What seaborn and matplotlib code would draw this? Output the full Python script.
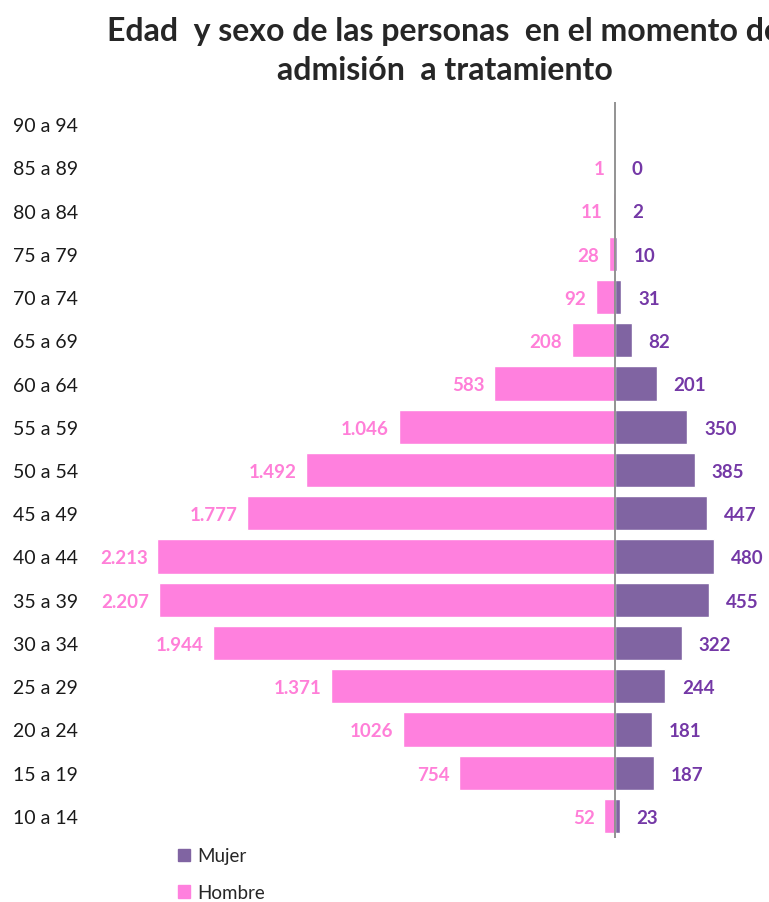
import pandas as pd
import matplotlib.pyplot as plt
import seaborn as sns
from matplotlib.patches import Patch

# age groups, top to bottom
edades = ['90 a 94', '85 a 89', '80 a 84', '75 a 79', '70 a 74', '65 a 69', '60 a 64',
          '55 a 59', '50 a 54', '45 a 49', '40 a 44', '35 a 39', '30 a 34', '25 a 29',
          '20 a 24', '15 a 19', '10 a 14']
hombre = [0, 1, 11, 28, 92, 208, 583, 1046, 1492, 1777, 2213, 2207, 1944, 1371, 1026, 754, 52]
mujer = [0, 0, 2, 10, 31, 82, 201, 350, 385, 447, 480, 455, 322, 244, 181, 187, 23]
etiq_hombre = ['', '1', '11', '28', '92', '208', '583', '1.046', '1.492', '1.777', '2.213',
               '2.207', '1.944', '1.371', '1026', '754', '52']
etiq_mujer = ['', '0', '2', '10', '31', '82', '201', '350', '385', '447', '480', '455',
              '322', '244', '181', '187', '23']

rosa = '#FF80DE'
morado = '#8064A2'
rosa_txt = '#FF7FD8'
morado_txt = '#7438A6'

df = pd.DataFrame({'Edad': edades, 'Hombre': [-v for v in hombre], 'Mujer': mujer})

sns.set_style('white')
plt.rcParams['font.family'] = ['Lato', 'DejaVu Sans']

fig = plt.figure(figsize=(7.69, 9.03), dpi=100)
ax = fig.add_axes([100 / 769, 1 - 838.6 / 903, 669 / 769, (838.6 - 103.4) / 903])

sns.barplot(data=df, y='Edad', x='Hombre', color=rosa, orient='h', width=0.79,
            saturation=1, ax=ax)
sns.barplot(data=df, y='Edad', x='Mujer', color=morado, orient='h', width=0.79,
            saturation=1, ax=ax)

ax.set_xlim(-2490, 745)
ax.set_ylim(len(edades) - 0.5, -0.5)
ax.axvline(0, color='#8a8a8a', lw=1.3)

for i in range(len(edades)):
    if etiq_hombre[i]:
        ax.annotate(etiq_hombre[i], (-hombre[i], i), xytext=(-7, -1), textcoords='offset points',
                    ha='right', va='center', color=rosa_txt, fontsize=13.5, fontweight='bold')
    if etiq_mujer[i]:
        ax.annotate(etiq_mujer[i], (mujer[i], i), xytext=(12, -1), textcoords='offset points',
                    ha='left', va='center', color=morado_txt, fontsize=13.5, fontweight='bold')

ax.set_xticks([])
ax.set_xlabel('')
ax.set_ylabel('')
ax.tick_params(axis='y', length=0, pad=16, labelsize=14, labelcolor='#1a1a1a')
sns.despine(ax=ax, left=True, bottom=True)

# the title runs past the right edge, as in the original
fig.text(0.578, 1 - 51 / 903, 'Edad  y sexo de las personas  en el momento de\nadmisión  a tratamiento',
         ha='center', va='center', fontsize=23, fontweight='bold', linespacing=1.38)

handles = [Patch(color=morado, label='Mujer'), Patch(color=rosa, label='Hombre')]
fig.legend(handles=handles, loc='upper left', bbox_to_anchor=(170 / 769, 1 - 841 / 903),
           frameon=False, fontsize=13.5, handlelength=0.65, handleheight=0.65,
           handletextpad=0.4, labelspacing=1.05, borderaxespad=0)

fig.savefig('out.png', dpi=100)
